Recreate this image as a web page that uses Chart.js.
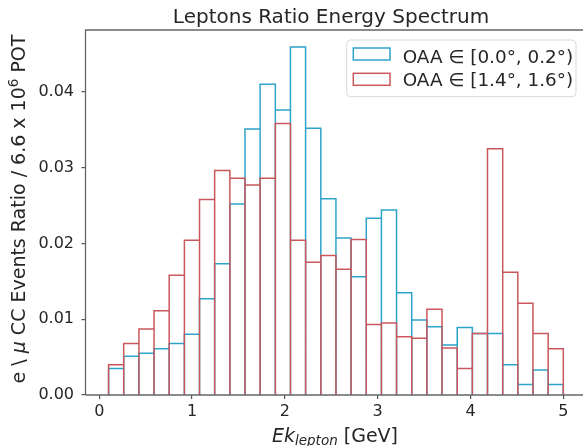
<!DOCTYPE html>
<html lang="en">
<head>
<meta charset="UTF-8">
<title>Leptons Ratio Energy Spectrum</title>
<script src="https://cdn.jsdelivr.net/npm/chart.js"></script>
<style>
  html, body { margin: 0; padding: 0; background: #fff; overflow: hidden; }
  #wrap { width: 583px; height: 446px; }
</style>
</head>
<body>
<div id="wrap"><canvas id="spectrum" width="583" height="446"></canvas></div>
<script>
// bin edges (GeV), 30 bins between 0.1 and 5.0
const binEdges = [0.100, 0.263, 0.427, 0.590, 0.753, 0.917, 1.080, 1.243, 1.407, 1.570,
                  1.733, 1.897, 2.060, 2.223, 2.387, 2.550, 2.713, 2.877, 3.040, 3.203,
                  3.367, 3.530, 3.693, 3.857, 4.020, 4.183, 4.347, 4.510, 4.673, 4.837, 5.000];

// OAA in [0.0, 0.2) deg
const ratioOnAxis = [0.0035, 0.0051, 0.0055, 0.0061, 0.0068, 0.0080, 0.0127, 0.0173, 0.0252, 0.0351,
                     0.0410, 0.0376, 0.0459, 0.0352, 0.0259, 0.0207, 0.0156, 0.0233, 0.0244, 0.0135,
                     0.0099, 0.0090, 0.0066, 0.0089, 0.0081, 0.0081, 0.0040, 0.0014, 0.0033, 0.0014];

// OAA in [1.4, 1.6) deg
const ratioOffAxis = [0.0040, 0.0068, 0.0087, 0.0111, 0.0158, 0.0204, 0.0258, 0.0296, 0.0286, 0.0277,
                      0.0286, 0.0358, 0.0204, 0.0175, 0.0184, 0.0166, 0.0205, 0.0093, 0.0095, 0.0077,
                      0.0075, 0.0113, 0.0062, 0.0035, 0.0081, 0.0325, 0.0162, 0.0121, 0.0081, 0.0061];

const seriesLabels = ['OAA \u2208 [0.0\u00b0, 0.2\u00b0)', 'OAA \u2208 [1.4\u00b0, 1.6\u00b0)'];
const xTickValues = [0, 1, 2, 3, 4, 5];
const yTickValues = [0.00, 0.01, 0.02, 0.03, 0.04];

const blue = '#2ea3c9';
const red = '#c9575c';
const FONT = '"DejaVu Sans", "Liberation Sans", sans-serif';

// every bar drawn as an unfilled rectangle, like hist(..., fill=False)
function barOutline(values) {
    const pts = [];
    values.forEach((v, i) => {
        pts.push({x: binEdges[i], y: 0}, {x: binEdges[i], y: v},
                 {x: binEdges[i + 1], y: v}, {x: binEdges[i + 1], y: 0});
    });
    return pts;
}

// spines on top of the bars
const frame = {
    id: 'frame',
    afterDatasetsDraw(chart) {
        const {ctx, chartArea: a} = chart;
        ctx.save();
        ctx.strokeStyle = '#666';
        ctx.lineWidth = 1.3;
        ctx.beginPath();
        ctx.moveTo(a.left, a.bottom);
        ctx.lineTo(a.left, a.top);
        ctx.lineTo(a.right + 2, a.top);
        ctx.moveTo(a.left, a.bottom);
        ctx.lineTo(a.right + 2, a.bottom);
        ctx.stroke();
        ctx.restore();
    }
};

function drawPieces(ctx, pieces, cx, baseline) {
    let total = 0;
    pieces.forEach(p => { ctx.font = p.font; total += ctx.measureText(p.text).width; });
    let x = cx - total / 2;
    ctx.textAlign = 'left';
    ctx.textBaseline = 'alphabetic';
    pieces.forEach(p => {
        ctx.font = p.font;
        ctx.fillText(p.text, x, baseline + (p.dy || 0));
        x += ctx.measureText(p.text).width;
    });
}

const texts = {
    id: 'texts',
    afterDraw(chart) {
        const {ctx} = chart;
        ctx.save();
        ctx.fillStyle = '#262626';

        // title
        ctx.font = '20px ' + FONT;
        ctx.textAlign = 'center';
        ctx.textBaseline = 'alphabetic';
        ctx.fillText('Leptons Ratio Energy Spectrum', 331, 22.7);

        // x label
        drawPieces(ctx, [
            {text: 'Ek', font: 'italic 19px ' + FONT},
            {text: 'lepton', font: 'italic 13.5px ' + FONT, dy: 3.5},
            {text: ' [GeV]', font: '19px ' + FONT}
        ], 335, 441.5);

        // y label
        ctx.save();
        ctx.translate(25, 209);
        ctx.rotate(-Math.PI / 2);
        drawPieces(ctx, [
            {text: 'e \\ ', font: '19px ' + FONT},
            {text: '\u03bc', font: 'italic 19px ' + FONT},
            {text: ' CC Events Ratio / 6.6 x 10', font: '19px ' + FONT},
            {text: '6', font: '13.5px ' + FONT, dy: -7},
            {text: ' POT', font: '19px ' + FONT}
        ], 0, 0);
        ctx.restore();

        // legend
        ctx.beginPath();
        ctx.roundRect(346.7, 40, 229.3, 56.7, 4);
        ctx.fillStyle = 'rgba(255,255,255,0.8)';
        ctx.fill();
        ctx.strokeStyle = '#d9d9d9';
        ctx.lineWidth = 1;
        ctx.stroke();
        [blue, red].forEach((c, i) => {
            const top = 48 + i * 25.3;
            ctx.strokeStyle = c;
            ctx.lineWidth = 1.5;
            ctx.strokeRect(353.3, top, 36.7, 12);
            ctx.fillStyle = '#262626';
            ctx.font = '18.4px ' + FONT;
            ctx.textAlign = 'left';
            ctx.fillText(seriesLabels[i], 402.7, 62.7 + i * 23.3);
        });
        ctx.restore();
    }
};

new Chart(document.getElementById('spectrum'), {
    type: 'scatter',
    data: {
        datasets: [
            {
                label: seriesLabels[0],
                data: barOutline(ratioOnAxis),
                showLine: true,
                borderColor: blue,
                borderWidth: 1.5,
                pointRadius: 0,
                tension: 0,
                fill: false,
                order: 2
            },
            {
                label: seriesLabels[1],
                data: barOutline(ratioOffAxis),
                showLine: true,
                borderColor: red,
                borderWidth: 1.5,
                pointRadius: 0,
                tension: 0,
                fill: false,
                order: 1
            }
        ]
    },
    options: {
        responsive: false,
        animation: false,
        layout: {padding: {top: 30, left: 0, right: 0, bottom: 0}},
        plugins: {
            legend: {display: false},
            tooltip: {enabled: false},
            title: {display: false}
        },
        scales: {
            x: {
                type: 'linear',
                min: -0.1487,
                max: 5.2123,
                afterFit: s => { s.height = 51; },
                afterBuildTicks: s => { s.ticks = xTickValues.map(v => ({value: v})); },
                ticks: {
                    font: {family: FONT, size: 16},
                    color: '#262626',
                    padding: 3.5,
                    maxRotation: 0,
                    callback: v => String(v)
                },
                grid: {drawOnChartArea: false, drawTicks: true, tickLength: 4, color: '#555', lineWidth: 1.2},
                border: {display: false}
            },
            y: {
                min: 0,
                max: 0.04815,
                afterFit: s => { s.width = 85.5; },
                afterBuildTicks: s => { s.ticks = yTickValues.map(v => ({value: v})); },
                ticks: {
                    font: {family: FONT, size: 16},
                    color: '#262626',
                    padding: 7.5,
                    callback: v => Number(v).toFixed(2)
                },
                grid: {drawOnChartArea: false, drawTicks: true, tickLength: 4, color: '#555', lineWidth: 1.2},
                border: {display: false}
            }
        }
    },
    plugins: [frame, texts]
});
</script>
</body>
</html>
